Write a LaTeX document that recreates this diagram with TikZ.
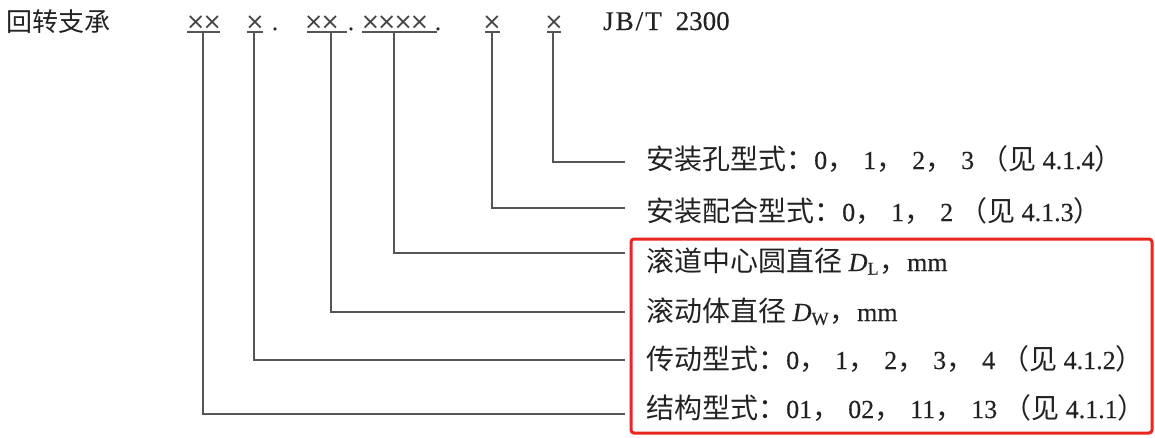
\documentclass[tikz,border=0pt]{standalone}
\usepackage{fontspec}
\setmainfont{Liberation Serif}[FakeBold=0.3]
\newfontfamily\cjkfont{Noto Sans CJK SC}
\newfontfamily\dvfont{DejaVu Sans}
\newcommand\zh[1]{{\cjkfont\fontsize{28}{30}\selectfont #1}}
\newcommand\zhcomma{\zh{，}\kern8pt}
\newcommand\zhparen{\kern6pt\zh{（见}}
\newcommand\xx{×\kern-3pt ×}
\definecolor{txt}{HTML}{222222}
\definecolor{ln}{HTML}{555555}
\definecolor{boxred}{HTML}{E8271F}
\tikzset{
  lbl/.style={anchor=base west, inner sep=0pt, text=txt, font=\fontsize{26}{28}\selectfont},
  xmark/.style={anchor=base, inner sep=0pt, text=txt!85, font=\dvfont\fontsize{23}{26}\selectfont},
  dotmark/.style={anchor=base, inner sep=0pt, text=txt, font=\fontsize{24}{26}\selectfont},
  conn/.style={draw=ln, line width=2pt},
  uline/.style={draw=ln, line width=1.7pt},
}
\begin{document}
\begin{tikzpicture}[x=1pt,y=-1pt]
\useasboundingbox (0,0) rectangle (1155,437);
\fill[white] (0,0) rectangle (1155,437);

% header
\node[lbl] (title) at (6,31) {{\cjkfont\fontsize{26}{28}\selectfont 回转支承}};
\node[xmark] (g1) at (204,29) {\xx};
\node[xmark] (g2) at (255,29) {×};
\node[dotmark] (d1) at (275,30) {.};
\node[xmark] (g3) at (322,29) {\xx};
\node[dotmark] (d2) at (351,30) {.};
\node[xmark] (g4) at (395,29) {×\kern-3pt ×\kern-3pt ×\kern-3pt ×};
\node[dotmark] (d3) at (438,30) {.};
\node[xmark] (g5) at (492,29) {×};
\node[xmark] (g6) at (554,29) {×};
\node[lbl, font=\fontsize{27}{29}\selectfont] (std) at (603,30) {J\kern2pt B\kern2pt/\kern2pt T\hspace{14pt}2300};

% underlines
\draw[uline] (187,32) -- (220,32);
\draw[uline] (247,32) -- (263,32);
\draw[uline] (307,32) -- (347,32);
\draw[uline] (362,32) -- (437,32);
\draw[uline] (485,32) -- (500,32);
\draw[uline] (547,32) -- (561,32);

% connector anchors
\coordinate (t1) at (202.5,32);
\coordinate (t2) at (253.5,32);
\coordinate (t3) at (331,32);
\coordinate (t4) at (393.5,32);
\coordinate (t5) at (492,32);
\coordinate (t6) at (553,32);
\coordinate (e1) at (625,414);
\coordinate (e2) at (625,360);
\coordinate (e3) at (625,312);
\coordinate (e4) at (625,253);
\coordinate (e5) at (625,208);
\coordinate (e6) at (625,162);

% labels
\node[lbl] (l6) at (646,169) {\zh{安装孔型式：}0\zhcomma 1\zhcomma 2\zhcomma 3\zhparen\ 4.1.4\zh{）}};
\node[lbl] (l5) at (646,221) {\zh{安装配合型式：}0\zhcomma 1\zhcomma 2\zhparen\ 4.1.3\zh{）}};
\node[lbl] (l4) at (646,271) {\zh{滚道中心圆直径} \textit{D}\textsubscript{L}\zh{，}mm};
\node[lbl] (l3) at (646,321) {\zh{滚动体直径} \textit{D}\textsubscript{W}\zh{，}mm};
\node[lbl] (l2) at (646,369) {\zh{传动型式：}0\zhcomma 1\zhcomma 2\zhcomma 3\zhcomma 4\zhparen\ 4.1.2\zh{）}};
\node[lbl] (l1) at (646,418) {\zh{结构型式：}01\zhcomma 02\zhcomma 11\zhcomma 13\zhparen\ 4.1.1\zh{）}};

% connectors
\draw[conn] (t1) |- (e1);
\draw[conn] (t2) |- (e2);
\draw[conn] (t3) |- (e3);
\draw[conn] (t4) |- (e4);
\draw[conn] (t5) |- (e5);
\draw[conn] (t6) |- (e6);

% highlight box
\draw[boxred, line width=3pt, rounded corners=3pt] (631,239) rectangle (1152,433);
\end{tikzpicture}
\end{document}
